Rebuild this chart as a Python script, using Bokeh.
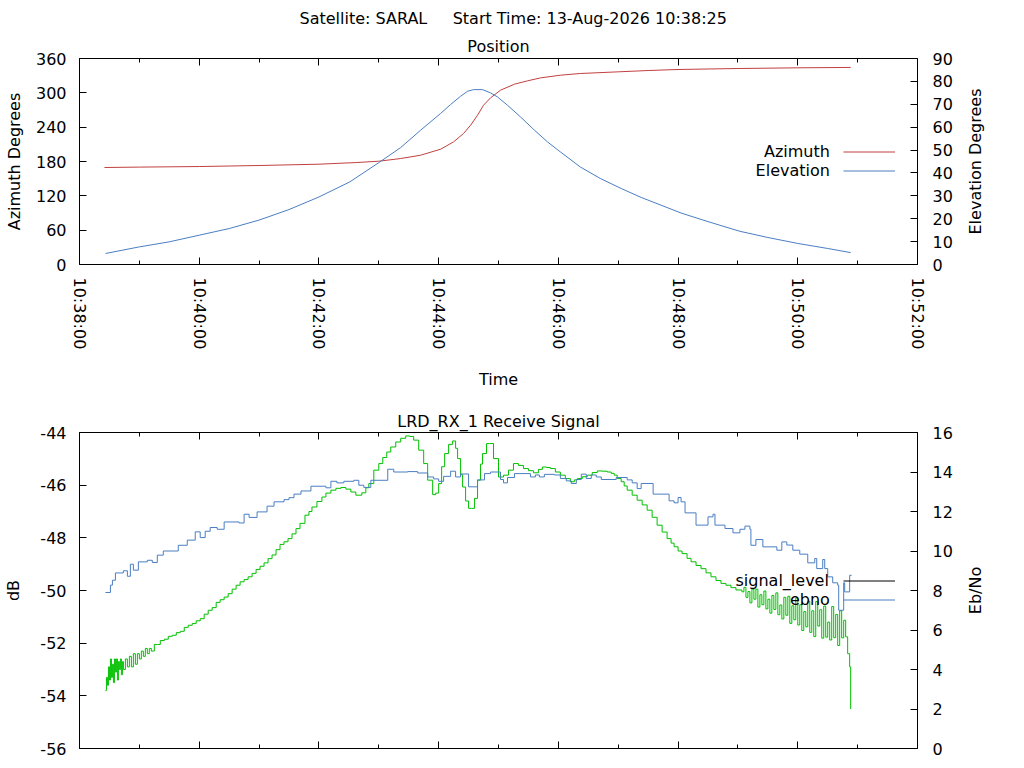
import math
from bokeh.plotting import figure
from bokeh.layouts import column
from bokeh.models import Range1d, LinearAxis, FixedTicker, Title, Legend, LegendItem, Label
from bokeh.embed import file_html
from bokeh.resources import INLINE

FONT = "DejaVu Sans"
FS = "16px"
RED = "#c0403f"
BLUE = "#4a7ec2"
GREEN = "#00c000"

MAIN_TITLE = "Satellite: SARAL\u00a0\u00a0\u00a0\u00a0\u00a0Start Time: 13-Aug-2026 10:38:25"

# ---- time axis (seconds after 10:38:00) ----
TIME_TICKS = [0, 120, 240, 360, 480, 600, 720, 840]
TIME_LABELS = ["10:38:00", "10:40:00", "10:42:00", "10:44:00", "10:46:00", "10:48:00", "10:50:00", "10:52:00"]
TIME_MINOR = [60, 180, 300, 420, 540, 660, 780]

AZ_TICKS = [0, 60, 120, 180, 240, 300, 360]
EL_TICKS = [0, 10, 20, 30, 40, 50, 60, 70, 80, 90]
DB_TICKS = [-56, -54, -52, -50, -48, -46, -44]
DB_LABELS = ["-56", "-54", "-52", "-50", "-48", "-46", "-44"]
EBNO_TICKS = [0, 2, 4, 6, 8, 10, 12, 14, 16]

# ---- position data ----
AZ_T = [25, 60, 120, 180, 240, 278, 300, 322, 342, 362, 375, 385, 392, 399, 405, 412, 422,
        436, 449, 462, 482, 502, 540, 570, 600, 660, 720, 773]
AZIMUTH = [169.5, 170.2, 171.2, 173.0, 175.3, 178.2, 180.5, 185.2, 191.0, 201.5, 214.3, 229.0,
           243.4, 260.9, 278.4, 291.2, 304.6, 315.1, 320.9, 326.1, 330.8, 333.8, 336.7, 339.0,
           340.8, 342.5, 343.7, 344.4]

EL_T = [26, 60, 90, 120, 150, 180, 210, 240, 271, 300, 322, 342, 362, 372, 382, 389, 395, 404,
        412, 419, 429, 442, 456, 469, 482, 502, 522, 543, 563, 583, 603, 623, 643, 662, 690,
        720, 750, 773]
ELEVATION = [4.8, 7.7, 9.9, 12.8, 15.7, 19.4, 24.0, 29.5, 36.1, 44.5, 51.1, 58.7, 66.0, 69.9,
             73.5, 75.7, 76.4, 76.4, 75.0, 73.2, 69.6, 64.5, 58.7, 53.6, 49.2, 42.6, 37.6, 33.2,
             29.3, 25.9, 22.5, 19.7, 17.0, 14.5, 11.8, 9.2, 7.0, 5.2]

# ---- receive signal data ----
SIG_T = [26, 27, 28, 29, 30, 31, 32, 33, 34, 35,
         36, 37, 38, 39, 40, 41, 42, 43, 44, 46,
         48, 50, 52, 54, 56, 58, 60, 62, 64, 66,
         68, 70, 72, 75, 78, 81, 85, 89, 93, 97,
         101, 105, 109, 113, 117, 121, 125, 129, 133, 137,
         141, 145, 149, 153, 157, 161, 165, 169, 173, 177,
         181, 185, 189, 193, 197, 201, 205, 209, 213, 217,
         221, 226, 230, 233, 238, 243, 247, 252, 257, 262,
         267, 272, 277, 283, 287, 290, 295, 300, 304, 308,
         312, 317, 322, 327, 331, 335, 340, 345, 349, 354,
         357, 360, 363, 366, 370, 374, 377, 379, 382, 384,
         387, 390, 393, 396, 399, 402, 404, 408, 411, 415,
         420, 425, 430, 435, 440, 445, 450, 455, 460, 464,
         468, 472, 477, 482, 487, 492, 496, 499, 504, 509,
         514, 519, 524, 529, 533, 536, 539, 543, 546, 549,
         554, 559, 564, 569, 574, 579, 584, 589, 593, 596,
         600, 604, 609, 613, 618, 623, 628, 633, 638, 643,
         648, 653, 658, 664, 666, 668, 670, 672, 674, 676,
         678, 680, 682, 684, 686, 688, 690, 692, 694, 696,
         698, 700, 702, 704, 706, 708, 710, 712, 714, 716,
         718, 720, 722, 724, 726, 728, 730, 732, 734, 736,
         738, 740, 742, 744, 746, 748, 750, 752, 754, 756,
         758, 760, 762, 764, 766, 768, 770, 772, 773]
SIGNAL_LEVEL = [-53.8, -53.3, -53.6, -52.9, -53.4, -52.6, -53.3, -52.8, -53.5, -52.6,
                -53.1, -52.6, -53.4, -52.7, -53.0, -52.6, -53.2, -52.7, -53.0, -52.6,
                -52.9, -52.5, -52.9, -52.4, -52.8, -52.4, -52.6, -52.3, -52.5, -52.2,
                -52.4, -52.2, -52.3, -52.05, -52.05, -51.9, -51.85, -51.74, -51.7, -51.6,
                -51.55, -51.4, -51.32, -51.25, -51.15, -51.07, -50.9, -50.75, -50.65, -50.45,
                -50.35, -50.25, -50.12, -49.95, -49.8, -49.67, -49.58, -49.48, -49.35, -49.2,
                -49.08, -48.95, -48.79, -48.65, -48.45, -48.25, -48.15, -48.03, -47.85, -47.65,
                -47.45, -47.14, -47.0, -46.83, -46.62, -46.45, -46.3, -46.19, -46.12, -46.09,
                -46.15, -46.26, -46.38, -46.29, -46.1, -45.94, -45.43, -45.18, -44.95, -44.74,
                -44.55, -44.36, -44.22, -44.13, -44.15, -44.29, -44.67, -45.18, -45.81, -46.36,
                -46.3, -45.94, -45.3, -44.8, -44.45, -44.32, -44.6, -44.99, -45.6, -46.07,
                -46.6, -46.88, -46.88, -46.5, -45.81, -45.2, -44.8, -44.42, -44.42, -44.99,
                -45.69, -45.62, -45.43, -45.18, -45.25, -45.37, -45.45, -45.53, -45.4, -45.31,
                -45.33, -45.37, -45.5, -45.62, -45.75, -45.87, -45.8, -45.75, -45.68, -45.62,
                -45.52, -45.46, -45.47, -45.5, -45.55, -45.62, -45.75, -45.87, -46.03, -46.19,
                -46.38, -46.57, -46.75, -46.95, -47.22, -47.52, -47.78, -48.03, -48.2, -48.34,
                -48.5, -48.6, -48.78, -48.91, -49.05, -49.17, -49.33, -49.48, -49.62, -49.73,
                -49.8, -49.89, -49.98, -50.05, -49.88, -50.26, -50.04, -50.47, -49.95, -50.33,
                -49.95, -50.63, -50.16, -50.54, -50.02, -50.7, -50.33, -50.86, -50.19, -50.72,
                -50.09, -50.92, -50.55, -51.08, -50.26, -50.94, -50.22, -51.25, -50.58, -51.11,
                -50.28, -51.31, -50.54, -51.52, -50.8, -51.38, -50.41, -51.59, -50.77, -51.75,
                -50.42, -51.35, -50.73, -51.81, -50.59, -51.77, -51.2, -51.88, -50.61, -51.79,
                -50.91, -52.09, -50.77, -51.8, -51.13, -51.76, -52.4, -52.9, -54.5]

EBNO_T = [26, 31, 33, 36, 44, 48, 51, 54, 59, 68,
          73, 78, 84, 99, 108, 116, 121, 126, 131, 138,
          145, 160, 165, 170, 178, 188, 195, 205, 210, 215,
          222, 232, 247, 252, 258, 265, 275, 280, 285, 292,
          309, 315, 329, 339, 349, 355, 360, 365, 372, 377,
          382, 390, 399, 406, 412, 422, 425, 429, 436, 452,
          457, 461, 466, 476, 482, 488, 493, 498, 503, 508,
          513, 518, 523, 538, 549, 554, 559, 563, 575, 591,
          596, 600, 603, 607, 618, 630, 635, 637, 647, 655,
          662, 667, 672, 673, 678, 685, 699, 704, 709, 715,
          722, 730, 737, 739, 745, 747, 750, 755, 760, 761,
          766, 767, 772, 774]
EBNO = [7.9, 8.27, 8.52, 8.89, 9.0, 8.72, 9.33, 9.03, 9.45, 9.53,
        9.42, 9.79, 10.0, 10.29, 10.55, 10.97, 10.68, 11.0, 11.19, 11.1,
        11.47, 11.42, 11.86, 11.7, 11.98, 12.27, 12.49, 12.6, 12.7, 12.88,
        13.04, 13.28, 13.2, 13.53, 13.45, 13.53, 13.58, 13.33, 13.22, 13.58,
        14.14, 14.0, 14.02, 13.95, 13.75, 13.65, 13.53, 13.78, 14.04, 13.75,
        13.9, 13.25, 13.6, 13.92, 14.0, 13.62, 13.45, 13.72, 13.92, 13.75,
        13.85, 13.75, 13.88, 13.85, 13.67, 13.55, 13.42, 13.62, 13.89, 13.67,
        13.85, 13.75, 13.62, 13.72, 13.6, 13.45, 13.16, 13.42, 12.88, 12.54,
        12.44, 12.71, 12.49, 11.93, 11.31, 11.73, 11.86, 11.31, 11.14, 10.92,
        11.1, 11.26, 11.1, 10.29, 10.58, 10.21, 10.04, 10.46, 10.3, 10.04,
        9.84, 9.4, 9.62, 9.11, 9.57, 9.11, 8.69, 8.39, 8.27, 7.0,
        8.39, 7.93, 8.77, 8.77]

assert len(SIG_T) == len(SIGNAL_LEVEL)
assert len(EBNO_T) == len(EBNO)
assert len(AZ_T) == len(AZIMUTH)
assert len(EL_T) == len(ELEVATION)

WIDTH = 1020
LEFT = 79
FRAME_W = 838


def text_style(obj, prefix):
    setattr(obj, prefix + "_font", FONT)
    setattr(obj, prefix + "_font_size", FS)
    setattr(obj, prefix + "_font_style", "normal")
    setattr(obj, prefix + "_color", "black")


def style_axis(ax, ticks, minor=None, labels=True, standoff=13, label=None, label_standoff=10):
    ax.ticker = FixedTicker(ticks=ticks, minor_ticks=minor or [])
    ax.axis_line_color = None
    ax.major_tick_in = 7
    ax.major_tick_out = 0
    ax.minor_tick_in = 4 if minor else 0
    ax.minor_tick_out = 0
    ax.major_tick_line_color = "black"
    ax.minor_tick_line_color = "black"
    text_style(ax, "major_label_text")
    ax.major_label_standoff = standoff
    if not labels:
        ax.major_label_text_color = None
        ax.major_label_text_font_size = "1px"
        ax.major_label_standoff = 0
    if label is not None:
        ax.axis_label = label
        text_style(ax, "axis_label_text")
        ax.axis_label_standoff = label_standoff


def base_fig(height, ymin, ymax, top, bottom):
    p = figure(width=WIDTH, height=height, title=None,
               x_range=Range1d(0, 840), y_range=Range1d(ymin, ymax),
               output_backend="svg", toolbar_location=None,
               min_border_left=LEFT, min_border_right=WIDTH - LEFT - FRAME_W,
               min_border_top=top, min_border_bottom=bottom)
    p.xgrid.visible = False
    p.ygrid.visible = False
    p.outline_line_color = "black"
    p.outline_line_width = 1
    p.outline_line_alpha = 1.0
    p.background_fill_color = "white"
    p.border_fill_color = "white"
    return p


def add_title(p, text, align="center", offset=0, standoff=2):
    t = Title(text=text, align=align, offset=offset, standoff=standoff)
    text_style(t, "text")
    p.add_layout(t, "above")


def add_legend(p, renderers, loc):
    items = [LegendItem(label="", renderers=[r]) for r in renderers]
    lg = Legend(items=items, location=loc, glyph_width=52, glyph_height=19,
                label_width=0, label_height=19, label_standoff=0, spacing=0,
                padding=0, margin=0, border_line_color=None, background_fill_alpha=0,
                label_text_font_size="1px")
    p.add_layout(lg)


def make_text(text, x, y, align="right", angle=0.0):
    return Label(x=x, y=y, x_units="screen", y_units="screen", text=text,
                 text_align=align, text_baseline="middle", angle=angle,
                 text_font=FONT, text_font_size=FS, text_color="black")


labels_map = {t: s for t, s in zip(TIME_TICKS, TIME_LABELS)}

# ================= top: Position =================
top = base_fig(400, 0, 360, 58, 136)
top.extra_y_ranges = {"el": Range1d(0, 90)}
xa = top.below[0]
ya = top.left[0]

xa_top_mirror = LinearAxis()
style_axis(xa_top_mirror, TIME_TICKS, TIME_MINOR, labels=False)
top.add_layout(xa_top_mirror, "above")
add_title(top, "Position", standoff=6)
add_title(top, MAIN_TITLE, align="left", offset=220, standoff=8)

style_axis(xa, TIME_TICKS, TIME_MINOR, standoff=13, label="Time", label_standoff=18)
xa.major_label_overrides = labels_map
xa.major_label_orientation = -math.pi / 2

style_axis(ya, AZ_TICKS, standoff=13, label="Azimuth Degrees", label_standoff=9)

ya2 = LinearAxis(y_range_name="el")
style_axis(ya2, EL_TICKS, standoff=15)
top.add_layout(ya2, "right")
top.add_layout(make_text("Elevation Degrees", 20, 103, align="center", angle=math.pi / 2), "right")

r_az = top.line(AZ_T, AZIMUTH, line_color=RED, line_width=1)
r_el = top.line(EL_T, ELEVATION, line_color=BLUE, line_width=1, y_range_name="el")

add_legend(top, [r_az, r_el], (763.7, 84.5))
top.add_layout(make_text("Azimuth", 750.4, 113.5))
top.add_layout(make_text("Elevation", 750.4, 94.5))

# ================= bottom: Receive Signal =================
bot = base_fig(364, -56, -44, 32, 16)
bot.extra_y_ranges = {"ebno": Range1d(0, 16)}
xb = bot.below[0]
yb = bot.left[0]

xb_mirror = LinearAxis()
style_axis(xb_mirror, TIME_TICKS, TIME_MINOR, labels=False)
bot.add_layout(xb_mirror, "above")
add_title(bot, "LRD_RX_1 Receive Signal", standoff=4)

style_axis(xb, TIME_TICKS, TIME_MINOR, labels=False)

style_axis(yb, DB_TICKS, standoff=13, label="dB", label_standoff=14)
yb.major_label_overrides = {t: s for t, s in zip(DB_TICKS, DB_LABELS)}

yb2 = LinearAxis(y_range_name="ebno")
style_axis(yb2, EBNO_TICKS, standoff=15)
bot.add_layout(yb2, "right")
bot.add_layout(make_text("Eb/No", 20, 158, align="center", angle=math.pi / 2), "right")

r_sig = bot.step(SIG_T, SIGNAL_LEVEL, mode="after", line_color=GREEN, line_width=1)
r_ebno = bot.step(EBNO_T, EBNO, mode="after", line_color=BLUE, line_width=1, y_range_name="ebno")
r_sig_key = bot.line([float("nan")], [float("nan")], line_color="black", line_width=1)

add_legend(bot, [r_sig_key, r_ebno], (763.7, 139.5))
bot.add_layout(make_text("signal_level", 749.4, 168))
bot.add_layout(make_text("ebno", 750.4, 149))

layout = column(top, bot, spacing=0)
open("out.html", "w").write(file_html(layout, INLINE))
